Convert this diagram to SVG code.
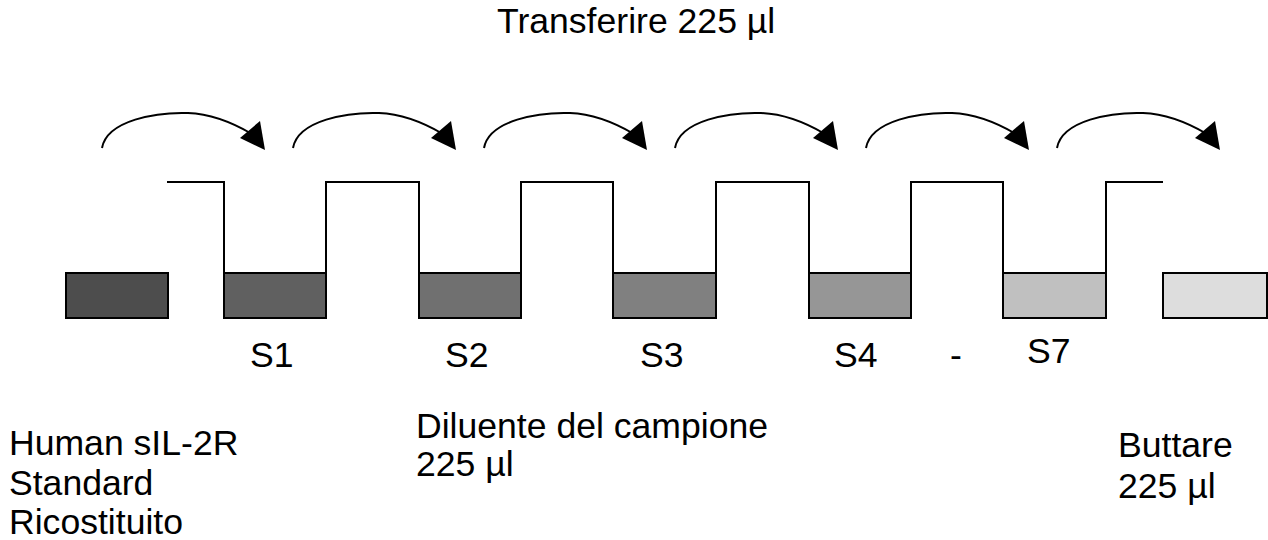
<svg xmlns="http://www.w3.org/2000/svg" width="1268" height="540" viewBox="0 0 1268 540">
<style>
text{font-family:"Liberation Sans",Arial,sans-serif;font-size:35.6px;fill:#000}
.tube{stroke:#000;stroke-width:2}
.step{fill:none;stroke:#000;stroke-width:2}
.arc{fill:none;stroke:#000;stroke-width:2}
</style>
<defs>
<g id="arrow">
<path class="arc" d="M0,0 C5,-28 55,-36 86,-35 C112,-34 133,-24 150,-14"/>
<polygon points="138,-10 158,-27 163,2" fill="#000"/>
</g>
</defs>
<text x="497" y="33">Transferire 225 µl</text>
<g id="connectors">
<use href="#arrow" x="102" y="148"/>
<use href="#arrow" x="293" y="148"/>
<use href="#arrow" x="484" y="148"/>
<use href="#arrow" x="675" y="148"/>
<use href="#arrow" x="866" y="148"/>
<use href="#arrow" x="1057" y="148"/>
<path class="step" d="M167,182 H224 V273 M326,273 V182 H419 V273 M521,273 V182 H613 V273 M716,273 V182 H809 V273 M911,273 V182 H1003 V273 M1106,273 V182 H1163"/>
</g>
<g id="std"><rect class="tube" x="66" y="273" width="102" height="45" fill="#4d4d4d"/></g>
<g id="s1"><rect class="tube" x="224" y="273" width="102" height="45" fill="#606060"/><text x="250" y="367">S1</text></g>
<g id="s2"><rect class="tube" x="419" y="273" width="102" height="45" fill="#707070"/><text x="445" y="367">S2</text></g>
<g id="s3"><rect class="tube" x="613" y="273" width="103" height="45" fill="#808080"/><text x="640" y="367">S3</text></g>
<g id="s4"><rect class="tube" x="809" y="273" width="102" height="45" fill="#969696"/><text x="834" y="367">S4</text></g>
<g id="dash"><text x="950" y="367">-</text></g>
<g id="s7"><rect class="tube" x="1003" y="273" width="103" height="45" fill="#c0c0c0"/><text x="1027" y="363">S7</text></g>
<g id="waste"><rect class="tube" x="1163" y="273" width="104" height="45" fill="#dddddd"/></g>
<g id="label-std"><text x="9" y="455">Human sIL-2R</text><text x="9" y="495">Standard</text><text x="9" y="534">Ricostituito</text></g>
<g id="label-dil"><text x="416" y="438">Diluente del campione</text><text x="416" y="476">225 µl</text></g>
<g id="label-waste"><text x="1118" y="457">Buttare</text><text x="1118" y="498">225 µl</text></g>
</svg>
